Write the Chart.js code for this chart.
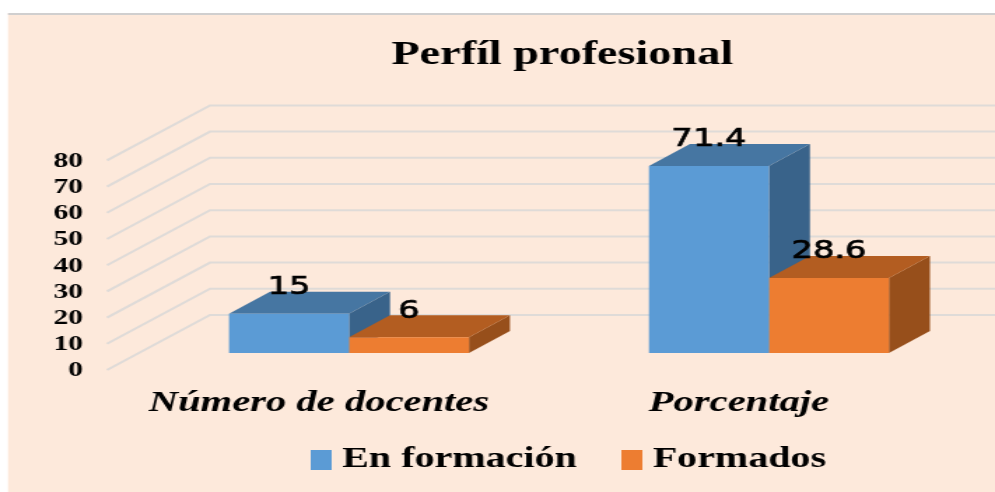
<!DOCTYPE html>
<html>
<head>
<meta charset="utf-8">
<title>Perfíl profesional</title>
<script src="https://cdn.jsdelivr.net/npm/chart.js@4"></script>
<style>
  html, body { margin: 0; padding: 0; background: #fff; }
</style>
</head>
<body>
<canvas id="profile-chart" width="711" height="492" style="width:995px;height:492px"></canvas>
<script>
// Chart data
const categories = ['Número de docentes', 'Porcentaje'];
const enFormacion = [15, 71.4];
const formados = [6, 28.6];
const seriesNames = ['En formación', 'Formados'];
const valueTicks = [0, 10, 20, 30, 40, 50, 60, 70, 80];

// Colors: front, top and side face of each series
const frontColors = ['#5B9BD5', '#ED7D31'];
const topColors = ['#4676A2', '#B35D21'];
const sideColors = ['#39638A', '#974F1B'];

// The reference is a wide stretched picture, so the canvas is drawn narrow
// and stretched by CSS. Everything below is in canvas units.
const SX = 995 / 711;
const serif = "'Liberation Serif', serif";

// 3D offsets from the plane of the bars
const floorFront = { dx: -32 / SX, dy: 17 };
const floorBack = { dx: 71 / SX, dy: -38 };
const barDepth = { dx: 41 / SX, dy: -22 };

// Small filled canvas used as legend swatch
function makeSwatch(color) {
  const c = document.createElement('canvas');
  c.width = 15;
  c.height = 20;
  const g = c.getContext('2d');
  g.fillStyle = color;
  g.fillRect(0, 0, 15, 20);
  return c;
}
const swatches = frontColors.map(makeSwatch);

function fillFace(ctx, points, color) {
  ctx.beginPath();
  points.forEach((p, i) => (i ? ctx.lineTo(p[0], p[1]) : ctx.moveTo(p[0], p[1])));
  ctx.closePath();
  ctx.fillStyle = color;
  ctx.fill();
}

const backdropPlugin = {
  id: 'backdrop',
  afterLayout(chart) {
    // title and legend sit right of the canvas center in the reference
    chart.titleBlock.left += 52;
    chart.titleBlock.right += 52;
    chart.legend.left += 60;
    chart.legend.right += 60;
    chart.legend.top -= 8;
    chart.legend.bottom -= 8;
    // the axis clips its labels to its box, leave room for descenders
    chart.scales.x.bottom += 20;
  },
  beforeDraw(chart) {
    const ctx = chart.ctx;
    ctx.save();
    ctx.fillStyle = '#FDE9DB';
    ctx.fillRect(8 / SX, 13, chart.width, chart.height);
    ctx.fillStyle = '#D0CFCF';
    ctx.fillRect(8 / SX, 13, chart.width, 2);
    ctx.restore();
  },
  beforeDatasetsDraw(chart) {
    const ctx = chart.ctx;
    const y = chart.scales.y;
    const left = chart.chartArea.left;
    ctx.save();

    // Gridlines: floor edge up to the back wall, then across the wall
    ctx.strokeStyle = '#DFDBD8';
    ctx.lineWidth = 2;
    valueTicks.forEach(v => {
      const py = y.getPixelForValue(v);
      ctx.beginPath();
      ctx.moveTo(left + floorFront.dx, py + floorFront.dy);
      ctx.lineTo(left + floorBack.dx, py + floorBack.dy);
      ctx.lineTo(chart.width, py + floorBack.dy);
      ctx.stroke();
    });

    // Side and top faces of the bars
    chart.data.datasets.forEach((ds, i) => {
      chart.getDatasetMeta(i).data.forEach(bar => {
        const l = bar.x - bar.width / 2;
        const r = bar.x + bar.width / 2;
        const d = barDepth;
        fillFace(ctx, [[r, bar.y], [r + d.dx, bar.y + d.dy], [r + d.dx, bar.base + d.dy], [r, bar.base]], sideColors[i]);
        fillFace(ctx, [[l, bar.y], [l + d.dx, bar.y + d.dy], [r + d.dx, bar.y + d.dy], [r, bar.y]], topColors[i]);
      });
    });
    ctx.restore();
  },
  afterDatasetsDraw(chart) {
    // Value labels above the front face of each bar, a bit heavier than the plain font
    const ctx = chart.ctx;
    ctx.save();
    ctx.font = "24px 'DejaVu Sans', sans-serif";
    ctx.fillStyle = '#000';
    ctx.strokeStyle = '#000';
    ctx.lineWidth = 0.7;
    ctx.textAlign = 'center';
    ctx.textBaseline = 'middle';
    chart.data.datasets.forEach((ds, i) => {
      chart.getDatasetMeta(i).data.forEach((bar, j) => {
        ctx.fillText(String(ds.data[j]), bar.x, bar.y - 26);
        ctx.strokeText(String(ds.data[j]), bar.x, bar.y - 26);
      });
    });
    ctx.restore();
  }
};

const profileChart = new Chart(document.getElementById('profile-chart'), {
  type: 'bar',
  data: {
    labels: categories,
    datasets: [
      { label: seriesNames[0], data: enFormacion, backgroundColor: frontColors[0] },
      { label: seriesNames[1], data: formados, backgroundColor: frontColors[1] }
    ]
  },
  options: {
    responsive: false,
    animation: false,
    layout: { padding: { left: 0, top: 0, right: 11.5, bottom: 0 } },
    datasets: { bar: { barPercentage: 1, categoryPercentage: 240 / 420 } },
    scales: {
      x: {
        grid: { display: false, drawTicks: false },
        border: { display: false },
        ticks: {
          color: '#000',
          font: { family: serif, size: 29, weight: 'bold', style: 'italic' },
          padding: 33,
          labelOffset: -21.5,
          maxRotation: 0,
          autoSkip: false
        },
        afterFit(scale) {
          scale.height = 492 - 353 - scale.chart.legend.height;
        }
      },
      y: {
        min: 0,
        max: 80,
        grid: { display: false, drawTicks: false },
        border: { display: false },
        ticks: {
          stepSize: 10,
          autoSkip: false,
          color: '#000',
          font: { family: serif, size: 21, weight: 'bold' },
          padding: 40,
          labelOffset: 18
        },
        afterFit(scale) {
          scale.width = 139 / SX;
        }
      }
    },
    plugins: {
      title: {
        display: true,
        text: 'Perfíl profesional',
        color: '#000',
        font: { family: serif, size: 33, weight: 'bold' },
        padding: { top: 36, bottom: 67.8 }
      },
      legend: {
        position: 'bottom',
        labels: {
          color: '#000',
          font: { family: serif, size: 28.6, weight: 'bold' },
          usePointStyle: true,
          boxWidth: 1,
          padding: 39,
          generateLabels(chart) {
            const items = Chart.defaults.plugins.legend.labels.generateLabels(chart);
            return items.map((item, i) => ({ ...item, pointStyle: swatches[i] }));
          }
        }
      },
      tooltip: { enabled: false }
    }
  },
  plugins: [backdropPlugin]
});
</script>
</body>
</html>
